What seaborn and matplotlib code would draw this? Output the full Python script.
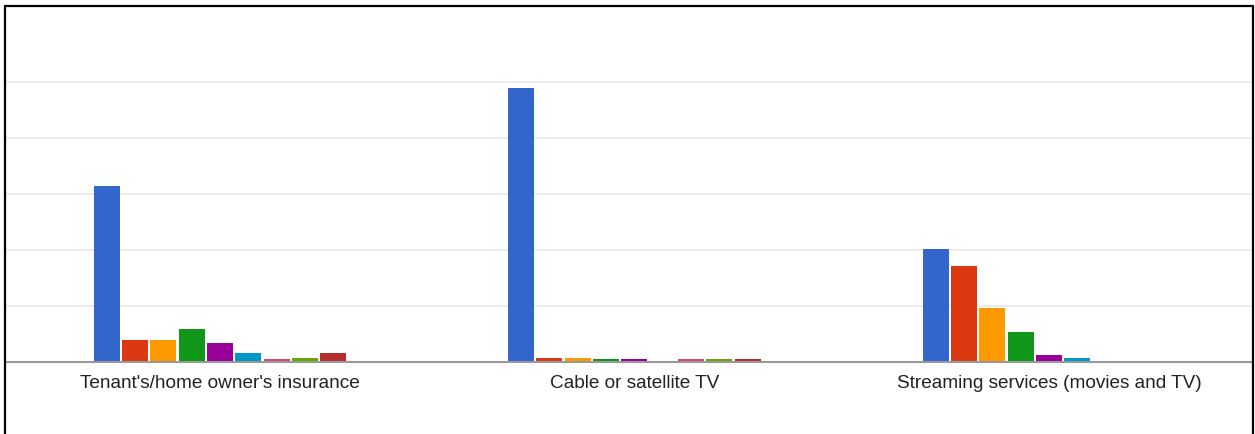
import matplotlib
matplotlib.use("Agg")
import matplotlib.pyplot as plt
import seaborn as sns
import pandas as pd
from matplotlib.lines import Line2D

categories = ["Tenant's/home owner's insurance", "Cable or satellite TV", "Streaming services (movies and TV)"]
series = ["S1", "S2", "S3", "S4", "S5", "S6", "S7", "S8", "S9"]
colors = ["#3366cc", "#dc3912", "#ff9900", "#109618", "#990099", "#0099c6", "#dd4477", "#66aa00", "#b82e2e"]

insurance = [31.3, 3.8, 3.8, 5.8, 3.3, 1.6, 0.5, 0.7, 1.6]
cable_tv = [48.8, 0.7, 0.7, 0.5, 0.5, 0.0, 0.5, 0.5, 0.5]
streaming = [20.1, 17.0, 9.6, 5.2, 1.2, 0.7, 0.0, 0.0, 0.0]

rows = []
for cat, vals in zip(categories, [insurance, cable_tv, streaming]):
    for s, v in zip(series, vals):
        rows.append({"category": cat, "series": s, "value": v})
df = pd.DataFrame(rows)

sns.set_theme(style="white")
plt.rcParams["font.family"] = ["Liberation Sans", "DejaVu Sans"]

W, H = 1255, 435
fig = plt.figure(figsize=(W / 100, H / 100), dpi=100)
fig.patch.set_facecolor("white")
ax = fig.add_axes([6 / W, 1 - 362.5 / H, (1252 - 6) / W, (362.5 - 26.5) / H])

sns.barplot(data=df, x="category", y="value", hue="series", hue_order=series,
            palette=colors, order=categories, width=0.615, gap=0.08,
            legend=False, ax=ax, linewidth=0, saturation=1)

ax.set_xlim(-0.516, 2.49)
ax.set_ylim(0, 60)
ax.set_yticks([10, 20, 30, 40, 50])
ax.set_yticklabels([])
ax.yaxis.grid(True, color="#ebebeb", linewidth=1.3)
ax.xaxis.grid(False)
ax.set_axisbelow(True)
for side in ["top", "right", "left"]:
    ax.spines[side].set_visible(False)
ax.spines["bottom"].set_color("#999999")
ax.spines["bottom"].set_linewidth(1.5)
ax.tick_params(axis="x", length=0, pad=9, labelsize=13.7, labelcolor="#222222")
ax.tick_params(axis="y", length=0)
ax.set_xlabel("")
ax.set_ylabel("")

# outer border (top, left, right)
lw = 1.6
fig.add_artist(Line2D([5 / W, 5 / W], [0, 1 - 7 / H], color="black", linewidth=lw, transform=fig.transFigure))
fig.add_artist(Line2D([1253 / W, 1253 / W], [0, 1 - 7 / H], color="black", linewidth=lw, transform=fig.transFigure))
fig.add_artist(Line2D([5 / W, 1253 / W], [1 - 7 / H, 1 - 7 / H], color="black", linewidth=lw, transform=fig.transFigure))

fig.savefig("out.png", dpi=100, facecolor="white")
